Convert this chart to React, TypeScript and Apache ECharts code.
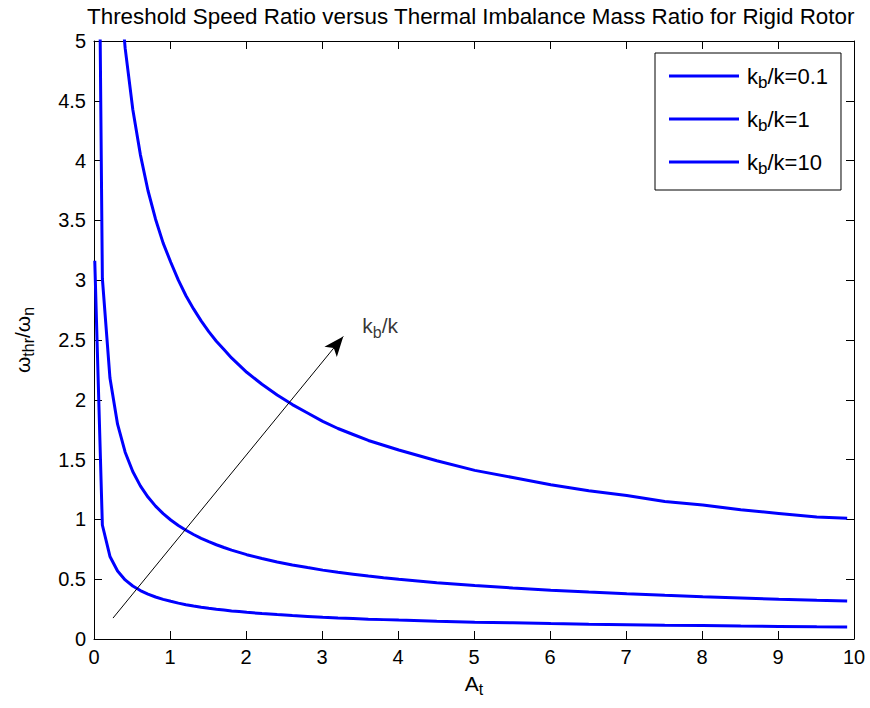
import React, { useEffect, useRef } from "react";
import * as echarts from "echarts";

// Thermal imbalance mass ratio A_t (x samples)
const A_T = [
  0.01, 0.11, 0.21, 0.31, 0.41, 0.51, 0.61, 0.71, 0.81, 0.91, 1.01, 1.11, 1.21, 1.31, 1.41,
  1.51, 1.61, 1.71, 1.81, 1.91, 2.01, 2.21, 2.41, 2.61, 2.81, 3.01, 3.21, 3.41, 3.61, 3.81,
  4.01, 4.51, 5.01, 5.51, 6.01, 6.51, 7.01, 7.51, 8.01, 8.51, 9.01, 9.51, 9.91,
];

// Threshold speed ratio for kb/k = 0.1
const KB_01 = [
  3.162, 0.953, 0.69, 0.568, 0.494, 0.443, 0.405, 0.375, 0.351, 0.331, 0.315, 0.3, 0.287, 0.276,
  0.266, 0.257, 0.249, 0.242, 0.235, 0.229, 0.223, 0.213, 0.204, 0.196, 0.189, 0.182, 0.176,
  0.171, 0.166, 0.162, 0.158, 0.149, 0.141, 0.135, 0.129, 0.124, 0.12, 0.115, 0.112, 0.108,
  0.105, 0.102, 0.101,
];

// Threshold speed ratio for kb/k = 1
const KB_1 = [
  10.0, 3.015, 2.182, 1.796, 1.562, 1.4, 1.28, 1.187, 1.111, 1.048, 0.995, 0.949, 0.909, 0.874,
  0.842, 0.814, 0.788, 0.765, 0.743, 0.724, 0.705, 0.673, 0.644, 0.619, 0.597, 0.576, 0.558,
  0.542, 0.526, 0.512, 0.499, 0.471, 0.447, 0.426, 0.408, 0.392, 0.378, 0.365, 0.353, 0.343,
  0.333, 0.324, 0.318,
];

// Threshold speed ratio for kb/k = 10
const KB_10 = [
  31.62, 9.53, 6.9, 5.68, 4.94, 4.43, 4.05, 3.75, 3.51, 3.31, 3.15, 3.0, 2.87, 2.76, 2.66, 2.57,
  2.49, 2.42, 2.35, 2.29, 2.23, 2.13, 2.04, 1.96, 1.89, 1.82, 1.76, 1.71, 1.66, 1.62, 1.58, 1.49,
  1.41, 1.35, 1.29, 1.24, 1.2, 1.15, 1.12, 1.08, 1.05, 1.02, 1.01,
];

const SERIES_NAMES = ["kb/k=0.1", "kb/k=1", "kb/k=10"];
const SERIES_RATIOS = ["0.1", "1", "10"];

// Axis ranges
const X_MIN = 0;
const X_MAX = 10;
const X_STEP = 1;
const Y_MIN = 0;
const Y_MAX = 5;
const Y_STEP = 0.5;

// Arrow annotation (data coordinates)
const ARROW_START = [0.25, 0.175];
const ARROW_END = [3.28, 2.53];
const ARROW_LABEL_AT = [3.53, 2.62];

const FONT = "'Liberation Sans', Arial, Helvetica, sans-serif";
const BLUE = "#0000ff";

const rich = (size: number, sub: number, pad: number, lead = 0) => ({
  f: { fontSize: size, fontFamily: FONT, color: "#000", padding: [0, 0, 0, lead] },
  n: { fontSize: size, fontFamily: FONT, color: "#000" },
  s: { fontSize: sub, fontFamily: FONT, color: "#000", padding: [pad, 0, 0, 0] },
});

export default function App() {
  const ref = useRef<HTMLDivElement>(null);

  useEffect(() => {
    document.body.style.margin = "0";
    const chart = echarts.init(ref.current!, null, { renderer: "svg" });

    const curves = [KB_01, KB_1, KB_10];
    const lineSeries = curves.map((vals, i) => ({
      name: SERIES_NAMES[i],
      type: "line",
      data: A_T.map((x, j) => [x, vals[j]]),
      showSymbol: false,
      symbol: "none",
      clip: true,
      lineStyle: { width: 3, color: BLUE },
      itemStyle: { color: BLUE },
      z: 3,
    }));

    const axisCommon = {
      axisLine: { show: true, onZero: false, lineStyle: { color: "#000", width: 1 } },
      axisTick: { show: true, inside: true, length: 8, lineStyle: { color: "#000" } },
      splitLine: { show: false },
    };

    chart.setOption({
      animation: false,
      backgroundColor: "#fff",
      title: {
        text: "Threshold Speed Ratio versus Thermal Imbalance Mass Ratio for Rigid Rotor",
        left: 82,
        top: 0,
        textStyle: { fontFamily: FONT, fontSize: 22.4, fontWeight: "normal", color: "#000" },
      },
      grid: { left: 94, right: 16, top: 41, bottom: 69 },
      legend: {
        data: SERIES_NAMES,
        orient: "vertical",
        left: 655,
        top: 53,
        padding: [12, 13, 13, 14],
        itemWidth: 70,
        itemHeight: 3,
        itemGap: 17,
        icon: "rect",
        borderColor: "#000",
        borderWidth: 1,
        backgroundColor: "#fff",
        formatter: (name: string) => {
          const i = SERIES_NAMES.indexOf(name);
          return `{f|k}{s|b}{n|/k=${SERIES_RATIOS[i]}}`;
        },
        textStyle: { rich: rich(22, 17, 13, 3) },
      },
      xAxis: [
        {
          type: "value",
          min: X_MIN,
          max: X_MAX,
          interval: X_STEP,
          position: "bottom",
          name: "{n|A}{s|t}",
          nameLocation: "middle",
          nameGap: 30,
          nameTextStyle: { rich: rich(21, 16, 12) },
          axisLabel: { fontFamily: FONT, fontSize: 20, color: "#000", margin: 8 },
          ...axisCommon,
        },
        {
          type: "value",
          min: X_MIN,
          max: X_MAX,
          interval: X_STEP,
          position: "top",
          axisLabel: { show: false },
          ...axisCommon,
        },
      ],
      yAxis: [
        {
          type: "value",
          min: Y_MIN,
          max: Y_MAX,
          interval: Y_STEP,
          position: "left",
          name: "{n|ω}{s|thr}{n|/ω}{s|n}",
          nameLocation: "middle",
          nameRotate: 90,
          nameGap: 58,
          nameTextStyle: { rich: rich(21, 16, 12) },
          axisLabel: { fontFamily: FONT, fontSize: 20, color: "#000", margin: 8 },
          ...axisCommon,
        },
        {
          type: "value",
          min: Y_MIN,
          max: Y_MAX,
          interval: Y_STEP,
          position: "right",
          axisLabel: { show: false },
          ...axisCommon,
        },
      ],
      series: [
        ...lineSeries,
        {
          name: "arrow",
          type: "scatter",
          data: [ARROW_LABEL_AT],
          symbolSize: 0,
          silent: true,
          z: 5,
          label: {
            show: true,
            position: [0, 0],
            align: "left",
            verticalAlign: "middle",
            formatter: "{n|k}{s|b}{n|/k}",
            rich: rich(21, 16, 13),
          },
          markLine: {
            silent: true,
            symbol: ["none", "arrow"],
            symbolSize: [12, 20],
            label: { show: false },
            lineStyle: { color: "#000", width: 1, type: "solid" },
            data: [[{ coord: ARROW_START }, { coord: ARROW_END }]],
          },
        },
      ],
    });

    return () => chart.dispose();
  }, []);

  return (
    <div
      ref={ref}
      style={{ width: 870, height: 708, position: "absolute", left: 0, top: 0, background: "#fff" }}
    />
  );
}
